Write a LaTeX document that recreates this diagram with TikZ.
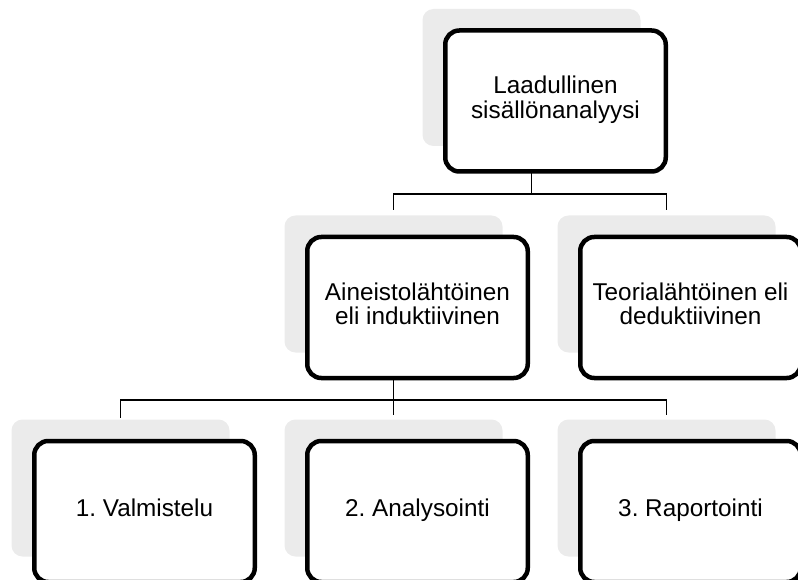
\documentclass[tikz,border=0pt]{standalone}
\usepackage{fontspec}
\setmainfont{Liberation Sans}
\usetikzlibrary{calc,backgrounds}
\definecolor{ghostgray}{RGB}{235,235,235}
\frenchspacing
\tikzstyle{chart}=[
  font=\fontsize{24.3}{24.5}\selectfont
]
\tikzstyle{box}=[
  draw,rounded corners=14pt,line width=4.5pt,fill=white,align=center,
  inner sep=0pt,minimum width=220.5pt,minimum height=141pt,
  execute at begin node=\strut,execute at end node=\strut
]
\tikzstyle{ghost}=[
  fill=ghostgray,rounded corners=11pt,inner sep=0pt,
  minimum width=218pt,minimum height=137pt
]
\tikzstyle{branch}=[
  line width=1.6pt
]

\begin{document}
\begin{tikzpicture}[chart]
    \useasboundingbox (0,0) rectangle (798pt,-580pt);
    \clip (0,0) rectangle (798pt,-580pt);
      \node (top) at (555.5pt,-101pt) [box] {Laadullinen\\sisällönanalyysi};
      \node (ain) at ($(top) + (-138pt,-206.5pt)$) [box] {Aineistolähtöinen\\eli induktiivinen};
      \node (teo) at ($(top) + (135pt,-206.5pt)$) [box] {Teorialähtöinen eli\\deduktiivinen};
      \node (val) at ($(ain) + (-273pt,-204pt)$) [box] {1. Valmistelu};
      \node (ana) at ($(ain) + (0pt,-204pt)$) [box] {2. Analysointi};
      \node (rap) at ($(ain) + (273pt,-204pt)$) [box] {3. Raportointi};
    \begin{scope}[on background layer]
      \foreach \n in {top,ain,teo,val,ana,rap}
        \node (\n-sh) at ($(\n) + (-24pt,23.5pt)$) [ghost] {};
      \coordinate (fork1) at ($(top-sh.south) + (0,-48pt)$);
      \coordinate (fork2) at ($(ain-sh.south) + (0,-47pt)$);
      \draw [branch] (top-sh.south) -- (fork1) -| ([yshift=5pt]ain-sh.north);
      \draw [branch] (fork1) -| ([yshift=5pt]teo-sh.north);
      \draw [branch] (ain-sh.south) -- (fork2) -| ([yshift=1pt]val-sh.north);
      \draw [branch] (fork2) -| ([yshift=4pt]ana-sh.north);
      \draw [branch] (fork2) -| ([yshift=4pt]rap-sh.north);
    \end{scope}
\end{tikzpicture}
\end{document}
